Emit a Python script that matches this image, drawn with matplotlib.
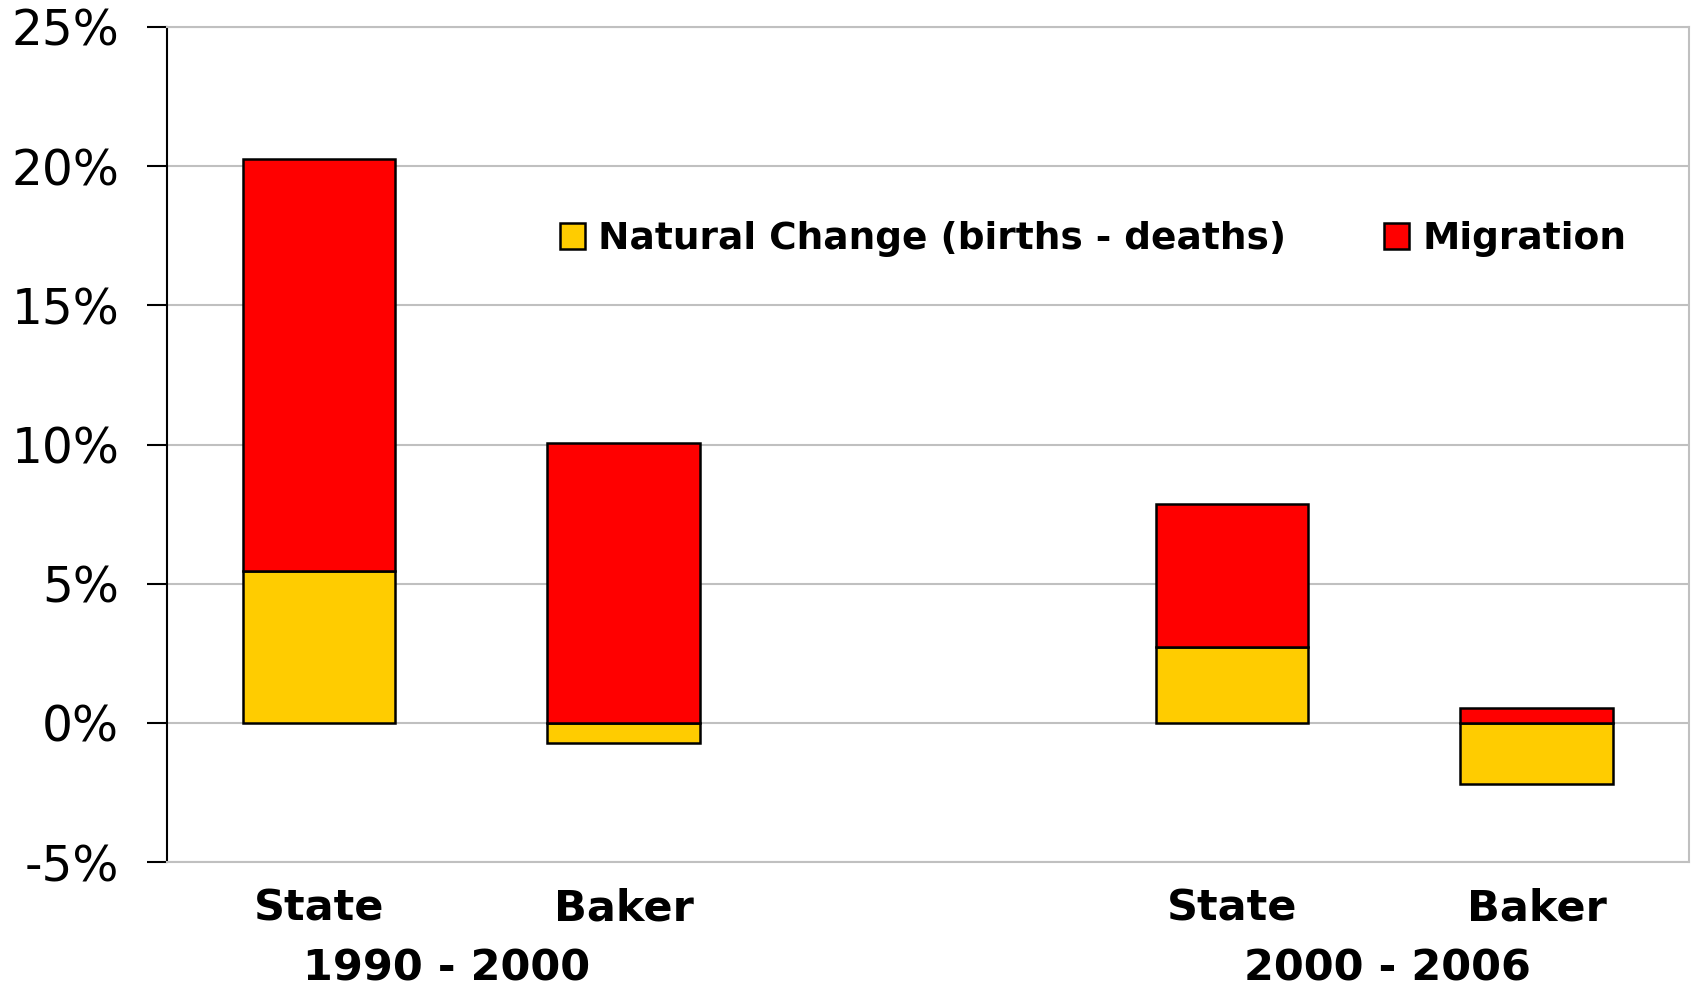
import matplotlib
matplotlib.use("Agg")
import matplotlib.pyplot as plt
import numpy as np

categories = ["State", "Baker", "State", "Baker"]
positions = [0, 1, 3, 4]
natural_change = [5.47, -0.74, 2.71, -2.21]
migration = [14.77, 10.04, 5.16, 0.54]
periods = ["1990 - 2000", "2000 - 2006"]
period_centers = [0.42, 3.51]
yticks = [-5, 0, 5, 10, 15, 20, 25]
ytick_labels = ["-5%", "0%", "5%", "10%", "15%", "20%", "25%"]

plt.rcParams['font.family'] = ['DejaVu Sans']

fig = plt.figure(figsize=(16.92, 9.89), dpi=100)
ax = fig.add_axes([0.0987, 0.1284, 0.8993, 0.8443])

nat = np.array(natural_change)
mig = np.array(migration)
# Excel-style stacking: positive on top of positive, negatives below zero
mig_bottom = np.where(nat > 0, nat, 0)

ax.bar(positions, nat, width=0.5, color="#FFCC00", edgecolor="black",
       linewidth=1.8, label="Natural Change (births - deaths)", zorder=3)
ax.bar(positions, mig, bottom=mig_bottom, width=0.5, color="#FF0000",
       edgecolor="black", linewidth=1.8, label="Migration", zorder=3)

ax.set_xlim(-0.5, 4.5)
ax.set_ylim(-5, 25)
ax.set_yticks(yticks)
ax.set_yticklabels(ytick_labels, fontsize=35)
ax.yaxis.grid(True, color="#c0c0c0", linewidth=1.5, zorder=0)
ax.set_axisbelow(True)
ax.tick_params(axis="y", direction="out", length=14.5, width=1.5, pad=20,
               color="black")

ax.set_xticks(positions)
ax.set_xticklabels(categories, fontsize=31, fontweight="bold")
ax.tick_params(axis="x", length=0, pad=18)

for sp in ["top", "right", "bottom"]:
    ax.spines[sp].set_color("#c0c0c0")
    ax.spines[sp].set_linewidth(1.5)
ax.spines["left"].set_color("black")
ax.spines["left"].set_linewidth(1.5)

for p, c in zip(periods, period_centers):
    ax.text(c, -0.128, p, transform=ax.get_xaxis_transform(), ha="center",
            va="center", fontsize=31, fontweight="bold")

leg = fig.legend(loc="center left", bbox_to_anchor=(0.331, 0.758), ncol=2,
                 frameon=False, handlelength=0.67,
                 handleheight=0.67, handletextpad=0.35, columnspacing=2.6,
                 borderpad=0, borderaxespad=0,
                 prop={"weight": "bold", "size": 27})

fig.savefig("out.png", dpi=100)
